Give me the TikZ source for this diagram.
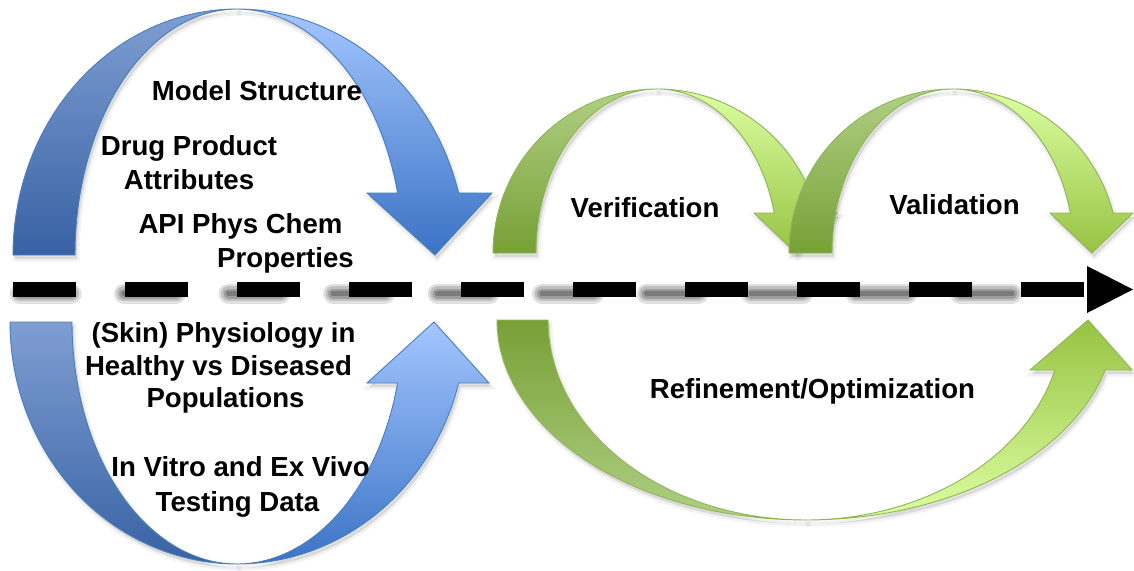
\documentclass[tikz,border=0pt]{standalone}
\usepackage{fontspec}
\setmainfont{Liberation Sans}
\usetikzlibrary{calc}
\definecolor{blueline}{HTML}{4A7EBB}
\definecolor{bbackTop}{HTML}{7F9ED2}
\definecolor{bbackBot}{HTML}{3862A4}
\definecolor{bfrontTop}{HTML}{A3C6FF}
\definecolor{bfrontBot}{HTML}{3B73C5}
\definecolor{greenline}{HTML}{8FB556}
\definecolor{gbackTop}{HTML}{B0CF84}
\definecolor{gbackBot}{HTML}{77A036}
\definecolor{gfrontTop}{HTML}{DCFFA2}
\definecolor{gfrontBot}{HTML}{97C343}
\tikzset{
  lbl/.style={font=\bfseries\fontsize{27.6}{33}\selectfont, inner sep=0pt, anchor=base},
  blueedge/.style={draw=blueline, line width=0.9pt},
  greenedge/.style={draw=greenline, line width=0.9pt},
  softshade/.style={fill=black, opacity=0.10, shift={(2,4)}},
  softblur/.style={draw=black, opacity=0.05, line width=5pt, shift={(2,4)}},
  dashshadow/.style={draw=black, line cap=round, dash pattern=on 52pt off 52.5pt, dash phase=98pt}
}
% band outlines (pixel coordinates, y downwards)
\def\pTL{plot[domain=180:270] ({237+224*cos(\x)},{255+246*sin(\x)}) -- plot[domain=270:180] ({237+162*cos(\x)},{255+246*sin(\x)}) -- cycle}
\def\pTR{plot[domain=270:345.4] ({237+229*cos(\x)},{255+246*sin(\x)}) -- (492,193) -- (435,255) -- (367,193) -- plot[domain=345.4:270] ({237+166*cos(\x)},{255+246*sin(\x)}) -- cycle}
\def\pBL{plot[domain=180:90] ({237+227*cos(\x)},{322+242*sin(\x)}) -- plot[domain=90:180] ({237+165*cos(\x)},{322+242*sin(\x)}) -- cycle}
\def\pBR{plot[domain=90:14.6] ({237+229*cos(\x)},{322+242*sin(\x)}) -- (489,383) -- (434,322) -- (367,383) -- plot[domain=14.6:90] ({237+166*cos(\x)},{322+242*sin(\x)}) -- cycle}
\def\pVL#1{plot[domain=180:270] ({#1+164*cos(\x)},{253+164*sin(\x)}) -- plot[domain=270:180] ({#1+121*cos(\x)},{253+164*sin(\x)}) -- cycle}
\def\pVR#1{plot[domain=270:345.9] ({#1+165*cos(\x)},{253+164*sin(\x)}) -- ({#1+180},213) -- ({#1+139},253) -- ({#1+97},213) -- plot[domain=345.9:270] ({#1+121*cos(\x)},{253+164*sin(\x)}) -- cycle}
\def\pRL{plot[domain=180:90] ({806+309*cos(\x)},{320+200*sin(\x)}) -- plot[domain=90:180] ({806+258*cos(\x)},{320+200*sin(\x)}) -- cycle}
\def\pRR{plot[domain=90:14.48] ({806+309*cos(\x)},{320+200*sin(\x)}) -- (1132,370) -- (1088,320) -- (1030,370) -- plot[domain=14.48:90] ({806+257*cos(\x)},{320+200*sin(\x)}) -- cycle}
\begin{document}
\begin{tikzpicture}[x=1pt, y=-1pt, samples=60]
\useasboundingbox (0,0) rectangle (1134,570);
\fill[white] (0,0) rectangle (1134,570);

% ---- soft shadows
\foreach \p in {\pTL,\pTR,\pBL,\pBR,\pRL,\pRR} {
  \fill[softshade] \p; \draw[softblur] \p;
}
\fill[softshade] \pVL{657}; \draw[softblur] \pVL{657};
\fill[softshade] \pVR{657}; \draw[softblur] \pVR{657};

% ---- blue curved down arrow (top left)
\path[blueedge, top color=bbackTop, bottom color=bbackBot] \pTL;
\path[blueedge, top color=bfrontTop, bottom color=bfrontBot] \pTR;

% ---- blue curved up arrow (bottom left)
\path[blueedge, top color=bbackTop, bottom color=bbackBot] \pBL;
\path[blueedge, top color=bfrontTop, bottom color=bfrontBot] \pBR;

% ---- green verification arrow
\path[greenedge, top color=gbackTop, bottom color=gbackBot] \pVL{657};
\path[greenedge, top color=gfrontTop, bottom color=gfrontBot] \pVR{657};

% ---- green validation arrow (on top of the first)
\fill[softshade] \pVL{953}; \draw[softblur] \pVL{953};
\fill[softshade] \pVR{953}; \draw[softblur] \pVR{953};
\path[greenedge, top color=gbackTop, bottom color=gbackBot] \pVL{953};
\path[greenedge, top color=gfrontTop, bottom color=gfrontBot] \pVR{953};

% ---- green refinement arrow (curved up)
\path[greenedge, top color=gbackBot, bottom color=gbackTop] \pRL;
\path[greenedge, top color=gfrontBot, bottom color=gfrontTop] \pRR;

% ---- dashed timeline with its soft shadow
\coordinate (shs) at (13,293.5);
\coordinate (she) at (1016,293.5);
\draw[dashshadow, opacity=0.12, line width=20pt] (shs) -- (she);
\draw[dashshadow, opacity=0.14, line width=15pt] (shs) -- (she);
\draw[dashshadow, opacity=0.18, line width=10pt] (shs) -- (she);
\draw[dashshadow, opacity=0.22, line width=5pt] (shs) -- (she);
\coordinate (ls) at (13,289.5);
\coordinate (le) at (1087,289.5);
\coordinate (tip) at (1133,289.5);
\draw[black, line width=15pt, dash pattern=on 63pt off 49pt] (ls) -- (le);
\fill[black] ($(le)+(0,-23.5)$) -- (tip) -- ($(le)+(0,23.5)$) -- cycle;

% ---- labels
\node[lbl] (model) at (257,100) {Model Structure};
\node[lbl] (drug1) at (189,155) {Drug Product};
\node[lbl] (drug2) at (189,189) {Attributes};
\node[lbl] (api1) at (240.5,233) {API Phys Chem};
\node[lbl] (api2) at (285.5,267) {Properties};
\node[lbl] (skin1) at (223.5,342) {(Skin) Physiology in};
\node[lbl] (skin2) at (218.5,375) {Healthy vs Diseased};
\node[lbl] (skin3) at (225.5,407) {Populations};
\node[lbl] (vitro1) at (240.5,476) {In Vitro and Ex Vivo};
\node[lbl] (vitro2) at (237.5,511) {Testing Data};
\node[lbl] (verif) at (645,217) {Verification};
\node[lbl] (valid) at (954.5,214) {Validation};
\node[lbl] (refine) at (812.5,398) {Refinement/Optimization};
\end{tikzpicture}
\end{document}
